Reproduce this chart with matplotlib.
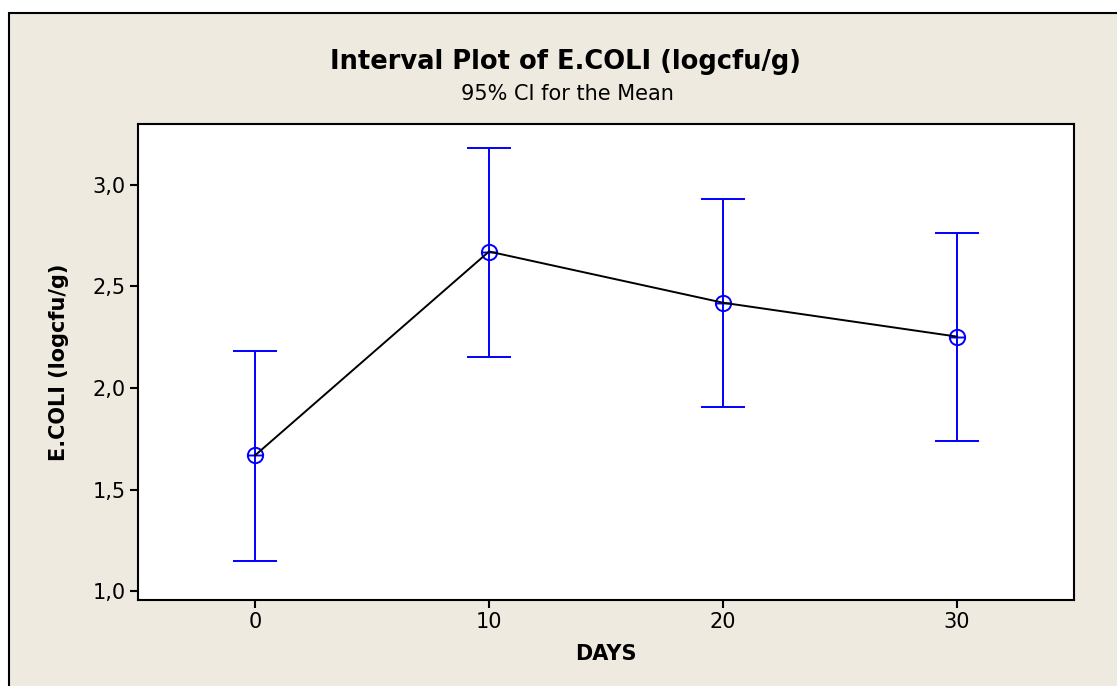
import numpy as np
import matplotlib
matplotlib.use('Agg')
import matplotlib.pyplot as plt
from matplotlib.path import Path
from matplotlib.patches import Rectangle

# ---- data ----
days = [0, 10, 20, 30]
means = [1.668, 2.672, 2.420, 2.253]
upper = [2.180, 3.183, 2.932, 2.765]
lower = [1.148, 2.155, 1.904, 1.737]
yticks = [1.0, 1.5, 2.0, 2.5, 3.0]
ytick_labels = ['1,0', '1,5', '2,0', '2,5', '3,0']

beige = '#EEEAE0'
plt.rcParams['font.family'] = ['DejaVu Sans']

fig = plt.figure(figsize=(11.17, 6.86), dpi=100, facecolor='white')
# beige panel with black frame (left and top edges visible)
fig.patches.append(Rectangle((9/1117, -0.05), 1.2, 1 - 13/686 + 0.05, transform=fig.transFigure,
                             facecolor=beige, edgecolor='black', linewidth=1.5, zorder=-10))

ax = fig.add_axes([138/1117, 1 - 600/686, (1074-138)/1117, (600-124)/686])
ax.set_zorder(1)
ax.set_facecolor('white')

lo = np.array(means) - np.array(lower)
hi = np.array(upper) - np.array(means)
ax.errorbar(days, means, yerr=[lo, hi], fmt='none', ecolor='#0000FF', elinewidth=1.4,
            capsize=16, capthick=1.4, zorder=2)

# circle with horizontal bar marker
circ = Path.unit_circle()
bar = Path([(-1, 0), (1, 0)], [Path.MOVETO, Path.LINETO])
mk = Path.make_compound_path(circ, bar)
ax.plot(days, means, linestyle='none', marker=mk, markersize=11, markerfacecolor='none',
        markeredgecolor='#0000FF', markeredgewidth=1.4, zorder=3)
ax.plot(days, means, color='black', linewidth=1.4, zorder=4)

ax.set_xlim(-5, 35)
ax.set_ylim(0.956, 3.30)
ax.set_xticks(days)
ax.set_yticks(yticks)
ax.set_yticklabels(ytick_labels)
ax.tick_params(direction='out', length=6, width=1.5, labelsize=15, colors='black', pad=3)
for s in ax.spines.values():
    s.set_linewidth(1.5)

ax.set_xlabel('DAYS', fontsize=15, fontweight='bold', labelpad=8)
ax.set_ylabel('E.COLI (logcfu/g)', fontsize=15, fontweight='bold', labelpad=17)

fig.text(565/1117, 1 - 62/686, 'Interval Plot of E.COLI (logcfu/g)', ha='center', va='center',
         fontsize=18.5, fontweight='bold')
fig.text(567/1117, 1 - 94/686, '95% CI for the Mean', ha='center', va='center', fontsize=15)

fig.savefig('out.png', dpi=100, facecolor=fig.get_facecolor())
